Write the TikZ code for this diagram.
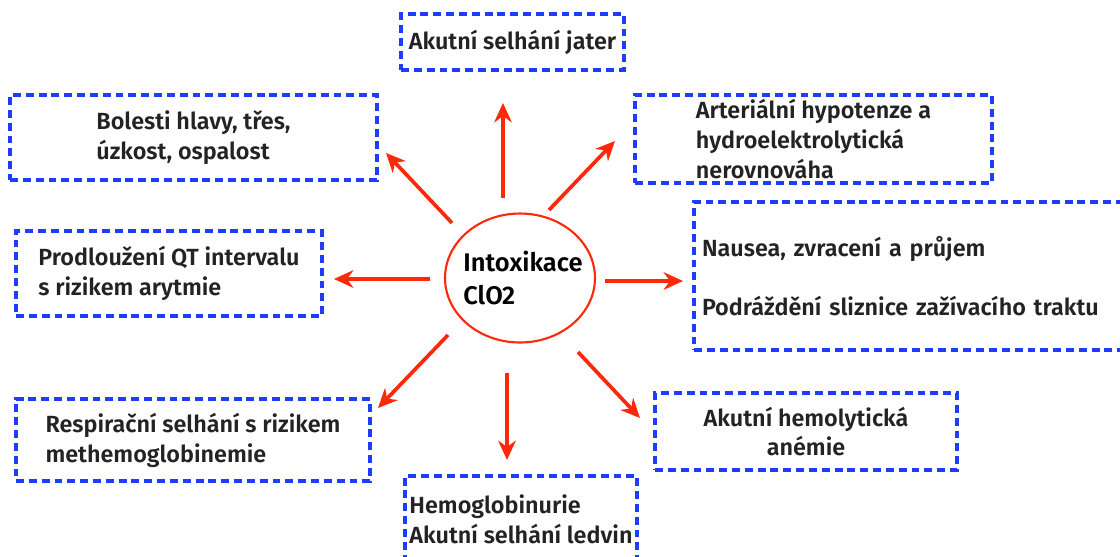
\documentclass[tikz,border=0pt]{standalone}
\usepackage{fontspec}
\setmainfont{Fira Sans}[UprightFont={* SemiBold}]
\usetikzlibrary{arrows.meta,shapes.geometric}
\definecolor{arrred}{RGB}{255,40,10}
\definecolor{boxblue}{RGB}{30,60,255}
\definecolor{txtgray}{RGB}{35,35,35}
\tikzset{
  effect/.style={draw=boxblue, line width=2pt, dash pattern=on 4.5pt off 2.8pt,
    text=txtgray, align=left, inner sep=0pt, font=\fontsize{13.3}{17}\selectfont},
  arr/.style={draw=arrred, line width=2.1pt, -{Stealth[length=11pt,width=10pt]}}
}

\begin{document}
\begin{tikzpicture}[x=0.02cm, y=-0.02cm]
			%%%%% START %%%%%
			\useasboundingbox (0,0) rectangle (1120,556);
			
			\node[draw=arrred, line width=1.2pt, ellipse, minimum width=3cm, minimum height=2.58cm, inner sep=0pt,
			  label={[align=left, font=\fontsize{14.5}{18.5}\selectfont, xshift=0.06cm]center:Intoxikace\\ClO2}] (intox) at (520,278) {};
			
			\node[effect, minimum width=4.46cm, minimum height=1.12cm] (jater) at (512.5,42) {Akutní selhání jater};
			\node[effect, minimum width=7.34cm, minimum height=1.70cm] (bolesti) at (193.5,137.5) {Bolesti hlavy, třes,\\úzkost, ospalost};
			\node[effect, minimum width=7.14cm, minimum height=1.76cm] (hypo) at (813.5,139) {Arteriální hypotenze a\\hydroelektrolytická\\nerovnováha};
			\node[effect, minimum width=6.12cm, minimum height=1.70cm] (qt) at (169,273.5) {Prodloužení QT intervalu\\s rizikem arytmie};
			\node[effect, text width=8.4cm, inner xsep=0.16cm, minimum height=2.96cm] (git) at (912,276) {Nausea, zvracení a průjem\\[17pt]Podráždění sliznice zažívacího traktu};
			\node[effect, minimum width=7.08cm, minimum height=1.64cm] (resp) at (193,440) {Respirační selhání s rizikem\\methemoglobinemie};
			\node[effect, minimum width=4.64cm, minimum height=1.72cm] (ledvin) at (521,519) {Hemoglobinurie\\Akutní selhání ledvin};
			\node[effect, align=center, minimum width=6.04cm, minimum height=1.54cm] (anemie) at (806,431.5) {Akutní hemolytická\\anémie};
			
			% arrow ends
			\coordinate (u0) at (503,198);  \coordinate (u1) at (503,103);
			\coordinate (ul0) at (452,223); \coordinate (ul1) at (386,153);
			\coordinate (ur0) at (549,210); \coordinate (ur1) at (615,141);
			\coordinate (l0) at (430,279);  \coordinate (l1) at (334,279);
			\coordinate (r0) at (605,281);  \coordinate (r1) at (683,281);
			\coordinate (dl0) at (448,335); \coordinate (dl1) at (378,408);
			\coordinate (d0) at (507,373);  \coordinate (d1) at (507,460);
			\coordinate (dr0) at (578,352); \coordinate (dr1) at (640,418);
			
			\draw[arr] (u0) -- (u1);
			\draw[arr] (ul0) -- (ul1);
			\draw[arr] (ur0) -- (ur1);
			\draw[arr] (l0) -- (l1);
			\draw[arr] (r0) -- (r1);
			\draw[arr] (dl0) -- (dl1);
			\draw[arr] (d0) -- (d1);
			\draw[arr] (dr0) -- (dr1);
			
			%%%%% END %%%%%
\end{tikzpicture}
\end{document}
